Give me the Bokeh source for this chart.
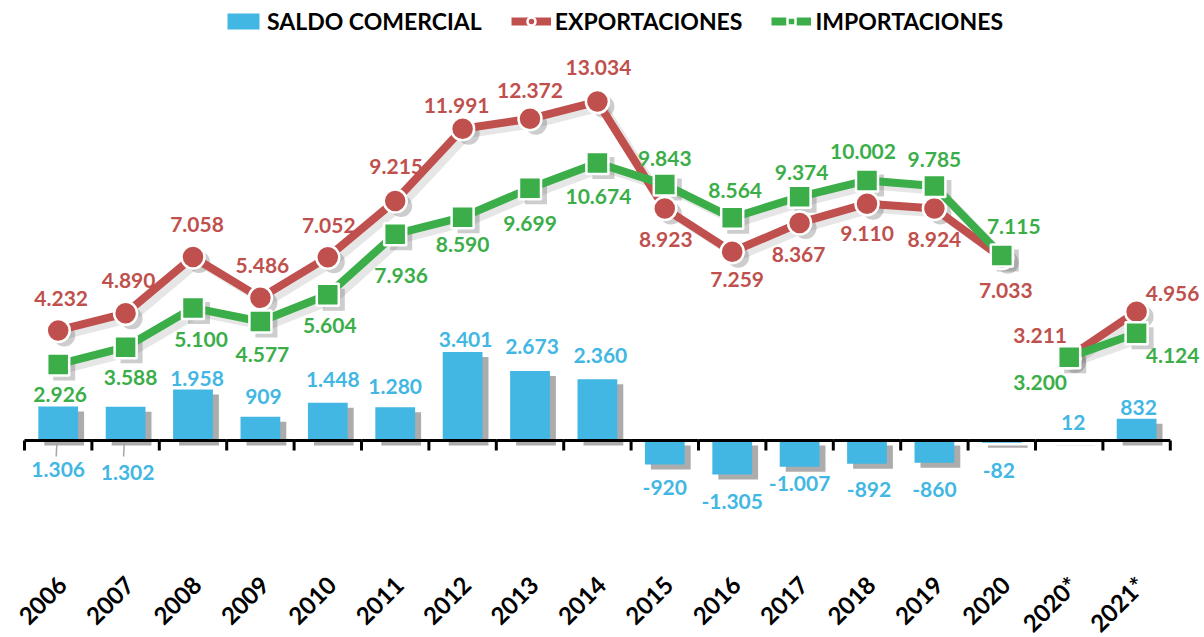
import numpy as np
from bokeh.plotting import figure
from bokeh.models import ColumnDataSource, Range1d, Legend, LegendItem, LabelSet
from bokeh.transform import dodge
from bokeh.core.properties import value
from bokeh.embed import file_html
from bokeh.resources import INLINE

years = ["2006", "2007", "2008", "2009", "2010", "2011", "2012", "2013", "2014",
         "2015", "2016", "2017", "2018", "2019", "2020", "2020*", "2021*"]
saldo = [1306, 1302, 1958, 909, 1448, 1280, 3401, 2673, 2360,
         -920, -1305, -1007, -892, -860, -82, 12, 832]
exportaciones = [4232, 4890, 7058, 5486, 7052, 9215, 11991, 12372, 13034,
                 8923, 7259, 8367, 9110, 8924, 7033, 3211, 4956]
importaciones = [2926, 3588, 5100, 4577, 5604, 7936, 8590, 9699, 10674,
                 9843, 8564, 9374, 10002, 9785, 7115, 3200, 4124]
leader_years = ["2006", "2007"]

# label placement (pixel offsets from the data point, +dy = downward)
exp_dx = [3, 3, 4, 2, 1, 1, -6, 0, 1, 1, 5, -1, 0, 0, 4, -29, 36]
exp_dy = [-32, -33, -32, -32, -32, -34, -23, -28, -34, 31, 28, 32, 30, 31, 33, -22, -18]
imp_dx = [2, 5, 8, 2, 2, 6, 0, 0, 1, 0, 3, 2, -4, 0, 12, -29, 36]
imp_dy = [30, 30, 32, 33, 31, 41, 27, 35, 34, -26, -27, -24, -29, -27, -29, 25, 22]
sal_dx = [0, 2, 4, 3, 5, 0, 3, 2, 3, 0, 0, 0, 2, 0, -3, 4, 2]
sal_dy = [63, 66, -11, -20, -23, -21, -13, -25, -24, 23, 27, 17, 26, 27, 28, -18, -11]

BLUE = "#42B7E3"
RED = "#C0504D"
GREEN = "#3BAE49"
SHADOW = "#5a5a5a"
FONT = "Lato"

def fmt(v):
    return f"{v:,}".replace(",", ".")

PX = 0.026      # pixels per value unit (vertical)
CW = 67.4       # pixels per category (horizontal)
W, H = 1202, 636
ZERO_Y = 440    # pixel row of the zero line
LEFT = 24       # pixel column where the first category starts
idx = list(range(len(years)))

src = ColumnDataSource(dict(
    idx=idx, year=years, saldo=saldo, exp=exportaciones, imp=importaciones,
    zero=[0] * len(years),
    exp_t=[fmt(v) for v in exportaciones], imp_t=[fmt(v) for v in importaciones],
    sal_t=[fmt(v) for v in saldo],
    exp_dx=exp_dx, exp_up=[-d for d in exp_dy],
    imp_dx=imp_dx, imp_up=[-d for d in imp_dy],
    sal_dx=sal_dx, sal_up=[-d for d in sal_dy],
    lab_y=[-140 / PX] * len(years),
))
n_main = years.index("2020") + 1
seg1 = ColumnDataSource(dict(idx=idx[:n_main], exp=exportaciones[:n_main], imp=importaciones[:n_main]))
seg2 = ColumnDataSource(dict(idx=idx[n_main:], exp=exportaciones[n_main:], imp=importaciones[n_main:]))

# the frame covers the whole canvas
x0 = -0.5 - LEFT / CW
x1 = x0 + W / CW
p = figure(width=W, height=H,
           x_range=Range1d(x0, x1),
           y_range=Range1d(-(H - ZERO_Y) / PX, ZERO_Y / PX),
           min_border_left=0, min_border_right=0, min_border_top=0, min_border_bottom=0,
           x_axis_location=None, y_axis_location=None,
           output_backend="svg", toolbar_location=None)
p.outline_line_color = None
p.xgrid.grid_line_color = None
p.ygrid.grid_line_color = None

sx = 6 / CW
sy = -5 / PX

# bar shadows and bars
p.vbar(x=dodge("idx", sx), top=dodge("saldo", sy), bottom=dodge("zero", sy),
       width=0.59, source=src, fill_color=SHADOW, fill_alpha=0.5, line_color=None)
bars = p.vbar(x="idx", top="saldo", width=0.59, source=src, fill_color=BLUE, line_color=None)

# line shadows
for s in (seg1, seg2):
    p.line(x=dodge("idx", sx), y=dodge("exp", sy), source=s,
           line_color=SHADOW, line_alpha=0.15, line_width=8, line_join="round")
    p.line(x=dodge("idx", sx), y=dodge("imp", sy), source=s,
           line_color=SHADOW, line_alpha=0.15, line_width=8, line_join="round")
p.scatter(x=dodge("idx", sx), y=dodge("exp", sy), source=src, marker="circle",
          size=22, fill_color=SHADOW, fill_alpha=0.3, line_color=None)
p.scatter(x=dodge("idx", sx), y=dodge("imp", sy), source=src, marker="square",
          size=22, fill_color=SHADOW, fill_alpha=0.3, line_color=None)

# exports
rlines = []
for s in (seg1, seg2):
    rlines.append(p.line(x="idx", y="exp", source=s, line_color=RED, line_width=8, line_join="round"))
rmark = p.scatter(x="idx", y="exp", source=src, marker="circle", size=23,
                  fill_color=RED, line_color="white", line_width=2.5)
# imports
glines = []
for s in (seg1, seg2):
    glines.append(p.line(x="idx", y="imp", source=s, line_color=GREEN, line_width=8, line_join="round"))
gmark = p.scatter(x="idx", y="imp", source=src, marker="square", size=22,
                  fill_color=GREEN, line_color="white", line_width=2.5)

# zero axis line with boundary ticks
p.segment(x0=dodge("idx", -0.5), y0=0, x1=dodge("idx", 0.5), y1=0, source=src,
          line_color="black", line_width=3)
p.segment(x0=dodge("idx", -0.5), y0=0, x1=dodge("idx", -0.5), y1=-10 / PX, source=src,
          line_color="black", line_width=3)
last = ColumnDataSource(dict(idx=[idx[-1]]))
p.segment(x0=dodge("idx", 0.5), y0=0, x1=dodge("idx", 0.5), y1=-10 / PX, source=last,
          line_color="black", line_width=3)
lead = ColumnDataSource(dict(idx=[years.index(y) for y in leader_years]))
p.segment(x0=dodge("idx", -0.02), y0=-3 / PX, x1=dodge("idx", -0.03), y1=-16 / PX,
          source=lead, line_color="#A6A6A6", line_width=1.5)

# data labels
common = dict(source=src, text_font=value(FONT), text_font_style="bold", text_font_size="21px",
              text_align="center", text_baseline="middle")
p.add_layout(LabelSet(x="idx", y="saldo", text="sal_t", x_offset="sal_dx", y_offset="sal_up",
                      text_color=BLUE, **common))
p.add_layout(LabelSet(x="idx", y="exp", text="exp_t", x_offset="exp_dx", y_offset="exp_up",
                      text_color=RED, **common))
p.add_layout(LabelSet(x="idx", y="imp", text="imp_t", x_offset="imp_dx", y_offset="imp_up",
                      text_color=GREEN, **common))

# category labels, rotated 45 degrees below the axis
p.add_layout(LabelSet(x="idx", y="lab_y", text="year", x_offset=4, source=src, angle=np.pi / 4,
                      text_font=value(FONT), text_font_style="bold", text_font_size="24px",
                      text_color="black", text_align="right", text_baseline="middle"))

legend = Legend(items=[
    LegendItem(label="SALDO COMERCIAL", renderers=[bars]),
    LegendItem(label="EXPORTACIONES", renderers=[rlines[0], rmark]),
    LegendItem(label="IMPORTACIONES", renderers=[glines[0], gmark]),
], orientation="horizontal", location=(223, H - 35), label_text_font=FONT,
    label_text_font_style="bold", label_text_font_size="23px", label_text_color="black",
    glyph_width=40, glyph_height=20, spacing=29, label_standoff=4, padding=2, margin=0,
    border_line_color=None, background_fill_alpha=0)
p.add_layout(legend)

open("out.html", "w").write(file_html(p, INLINE))
